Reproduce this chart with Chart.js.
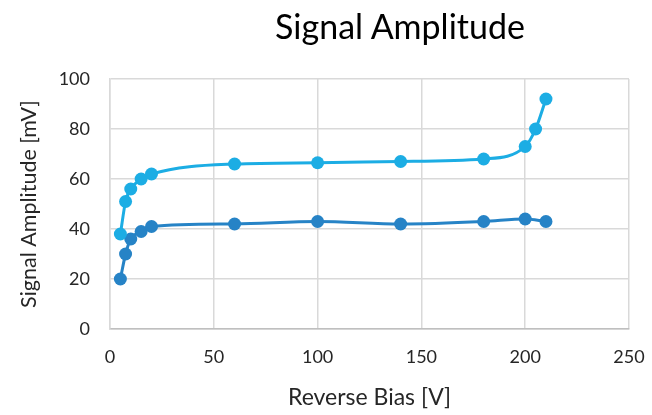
<!DOCTYPE html>
<html>
<head>
<meta charset="utf-8">
<script src="https://cdn.jsdelivr.net/npm/chart.js@4"></script>
<style>
  html, body { margin: 0; padding: 0; background: #fff; overflow: hidden; }
  #wrap { position: relative; width: 652px; height: 415px; }
  #title {
    position: absolute; left: 0; top: 5px; width: 800px; text-align: center;
    font-family: Lato, "Open Sans", sans-serif; font-size: 34px; color: #000;
  }
</style>
</head>
<body>
<div id="wrap">
  <div id="title">Signal Amplitude</div>
  <canvas id="myChart" width="652" height="415"></canvas>
</div>
<script>
// reverse bias values [V]
var biasUpper = [5, 7.5, 10, 15, 20, 60, 100, 140, 180, 200, 205, 210];
var ampUpper = [38, 51, 56, 60, 62, 66, 66.5, 67, 68, 73, 80, 92];

var biasLower = [5, 7.5, 10, 15, 20, 60, 100, 140, 180, 200, 210];
var ampLower = [20, 30, 36, 39, 41, 42, 43, 42, 43, 44, 43];

var xTicks = [0, 50, 100, 150, 200, 250];
var yTicks = [0, 20, 40, 60, 80, 100];

function toPoints(xs, ys) {
  return xs.map(function (x, i) { return { x: x, y: ys[i] }; });
}

var font = "Lato, 'Open Sans', sans-serif";

document.addEventListener("DOMContentLoaded", function () {
  var ctx = document.getElementById("myChart").getContext("2d");
  new Chart(ctx, {
    type: "line",
    data: {
      datasets: [
        {
          label: "upper",
          data: toPoints(biasUpper, ampUpper),
          borderColor: "#1CADE4",
          backgroundColor: "#1CADE4",
        },
        {
          label: "lower",
          data: toPoints(biasLower, ampLower),
          borderColor: "#2683C6",
          backgroundColor: "#2683C6",
        },
      ],
    },
    options: {
      responsive: false,
      animation: false,
      layout: { padding: { top: 79, right: 23, bottom: 0, left: 0 } },
      elements: {
        line: { borderWidth: 3, cubicInterpolationMode: "monotone" },
        point: { radius: 6.5, borderWidth: 0 },
      },
      plugins: {
        legend: { display: false },
        tooltip: { enabled: false },
      },
      scales: {
        x: {
          type: "linear",
          min: 0,
          max: 250,
          afterBuildTicks: function (scale) {
            scale.ticks = xTicks.map(function (v) { return { value: v }; });
          },
          afterFit: function (scale) {
            scale.height = 86;
            // tick padding would otherwise eat into the right edge
            scale.paddingLeft = 0;
            scale.paddingRight = 0;
          },
          grid: { color: "#D9D9D9", lineWidth: 1.5, drawTicks: false },
          border: { color: "#BFBFBF", width: 1.5 },
          ticks: { color: "#262626", font: { family: font, size: 18 }, padding: 17 },
          title: {
            display: true,
            text: "Reverse Bias [V]",
            color: "#262626",
            font: { family: font, size: 23 },
            padding: { top: 4 },
          },
        },
        y: {
          min: 0,
          max: 100,
          afterBuildTicks: function (scale) {
            scale.ticks = yTicks.map(function (v) { return { value: v }; });
          },
          afterFit: function (scale) { scale.width = 110; },
          grid: { color: "#D9D9D9", lineWidth: 1.5, drawTicks: false },
          border: { color: "#D9D9D9", width: 1.5 },
          ticks: { color: "#262626", font: { family: font, size: 18 }, padding: 20 },
          title: {
            display: true,
            text: "Signal Amplitude [mV]",
            color: "#262626",
            font: { family: font, size: 21.5 },
            padding: { top: 16, bottom: 0 },
          },
        },
      },
    },
  });
});
</script>
</body>
</html>
